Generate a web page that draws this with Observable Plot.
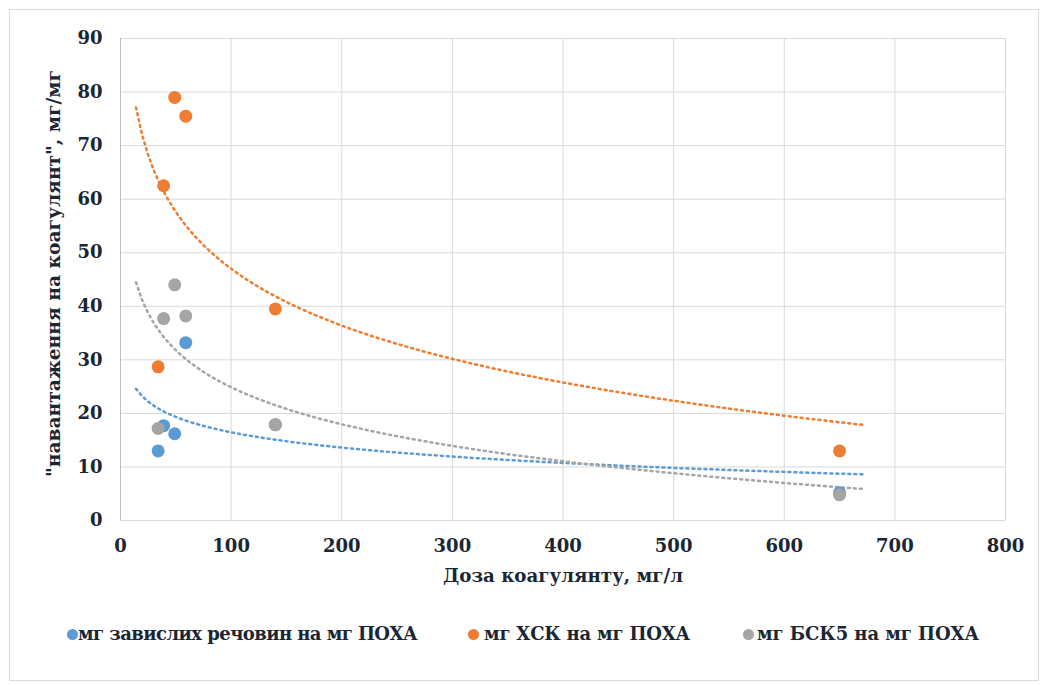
<!DOCTYPE html>
<html>
<head>
<meta charset="utf-8">
<script src="https://cdn.jsdelivr.net/npm/d3@7"></script>
<script src="https://cdn.jsdelivr.net/npm/@observablehq/plot@0.6"></script>
<style>
  html, body { margin: 0; padding: 0; background: #fff; }
  #wrap { position: relative; width: 1042px; height: 686px; }
  #frame { position: absolute; left: 9px; top: 9px; width: 1030px; height: 672px; border: 1px solid #d9d9d9; box-sizing: border-box; }
  #chart { position: absolute; left: 0; top: 0; }
  #legend { position: absolute; left: 0; top: 622px; width: 1042px; height: 24px;
            font-family: "DejaVu Serif", "Liberation Serif", serif; font-weight: bold; font-size: 18px; color: #1a2634; }
  .sw { position: absolute; top: 7px; width: 11px; height: 11px; border-radius: 50%; }
  .tx { position: absolute; top: 0; line-height: 24px; white-space: nowrap; }
</style>
</head>
<body>
<div id="wrap">
  <div id="frame"></div>
  <div id="chart"></div>
  <div id="legend"></div>
</div>
<script>
// ---- data ----
const doses = [34, 39, 49, 59, 140, 650];
const seriesNames = ["мг завислих речовин на мг ПОХА", "мг ХСК на мг ПОХА", "мг БСК5 на мг ПОХА"];
const seriesColors = ["#5b9bd5", "#ed7d31", "#a5a5a5"];
const suspended = [13, 17.7, 16.2, 33.2, 17.9, 5.2];
const cod = [28.7, 62.5, 79, 75.5, 39.5, 13];
const bod5 = [17.2, 37.7, 44, 38.2, 17.9, 4.8];
const xTicks = [0, 100, 200, 300, 400, 500, 600, 700, 800];
const yTicks = [0, 10, 20, 30, 40, 50, 60, 70, 80, 90];
const xLabel = "Доза коагулянту, мг/л";
const yLabel = "\"навантаження на коагулянт\", мг/мг";
const trendRange = [14, 672];

const FONT = "DejaVu Serif, Liberation Serif, serif";
const INK = "#1a2634";

// ---- build table ----
const valuesBySeries = [suspended, cod, bod5];
const points = [];
valuesBySeries.forEach((vals, si) => vals.forEach((v, i) => points.push({s: seriesNames[si], x: doses[i], y: v, si})));

// logarithmic trendline (least squares on ln x), as Excel does
const trend = [];
valuesBySeries.forEach((vals, si) => {
  const lx = doses.map(Math.log);
  const mx = d3.mean(lx), my = d3.mean(vals);
  let sxy = 0, sxx = 0;
  lx.forEach((l, i) => { sxy += (l - mx) * (vals[i] - my); sxx += (l - mx) ** 2; });
  const b = sxy / sxx, a = my - b * mx;
  const n = 120;
  for (let k = 0; k <= n; k++) {
    const x = trendRange[0] + (trendRange[1] - trendRange[0]) * k / n;
    trend.push({s: seriesNames[si], x, y: a + b * Math.log(x), si});
  }
});

const color = {domain: seriesNames, range: seriesColors};

const chart = Plot.plot({
  width: 1042,
  height: 610,
  marginLeft: 120,
  marginRight: 37,
  marginTop: 38,
  marginBottom: 90,
  style: {fontFamily: FONT, fontWeight: "bold", fontSize: "18px", color: INK, background: "transparent"},
  x: {domain: [0, 800], label: null},
  y: {domain: [0, 90], label: null},
  color,
  marks: [
    Plot.gridX(xTicks, {stroke: "#d9d9d9", strokeOpacity: 1, strokeWidth: 1}),
    Plot.gridY(yTicks, {stroke: "#d9d9d9", strokeOpacity: 1, strokeWidth: 1}),
    Plot.axisX(xTicks, {tickSize: 0, tickPadding: 19, fontSize: 18, fill: INK, label: null}),
    Plot.axisY(yTicks, {tickSize: 0, tickPadding: 18, fontSize: 18, fill: INK, label: null}),
    Plot.ruleX([0], {stroke: "#bfbfbf"}),
    Plot.line(trend, {x: "x", y: "y", z: "s", stroke: "s", strokeWidth: 2.5, strokeDasharray: "2,4"}),
    Plot.dot(points, {x: "x", y: "y", fill: "s", r: 6.5, stroke: null}),
    Plot.text([xLabel], {frameAnchor: "bottom", dy: 61, fontSize: 18, fill: INK, textAnchor: "middle", className: "xlab"}),
    Plot.text([yLabel], {frameAnchor: "left", rotate: -90, dx: -66, dy: -6, fontSize: 18, fill: INK, textAnchor: "middle", className: "ylab"})
  ]
});
document.getElementById("chart").appendChild(chart);

// fit axis titles to the lengths seen in the reference
d3.select(chart).selectAll("g.xlab text").attr("textLength", 240).attr("lengthAdjust", "spacingAndGlyphs");
d3.select(chart).selectAll("g.ylab text").attr("textLength", 407).attr("lengthAdjust", "spacingAndGlyphs");

// ---- legend ----
const legendDot = [72, 473, 748];
const legendText = [[78, 417], [484, 690], [757, 979]];
const legend = document.getElementById("legend");
seriesNames.forEach((name, i) => {
  const sw = document.createElement("span");
  sw.className = "sw";
  sw.style.left = (legendDot[i] - 5.5) + "px";
  sw.style.background = seriesColors[i];
  legend.appendChild(sw);
  const t = document.createElement("span");
  t.className = "tx";
  t.textContent = name;
  t.style.left = legendText[i][0] + "px";
  legend.appendChild(t);
  const w = t.getBoundingClientRect().width;
  const target = legendText[i][1] - legendText[i][0];
  t.style.letterSpacing = ((target - w) / name.length) + "px";
});
</script>
</body>
</html>
